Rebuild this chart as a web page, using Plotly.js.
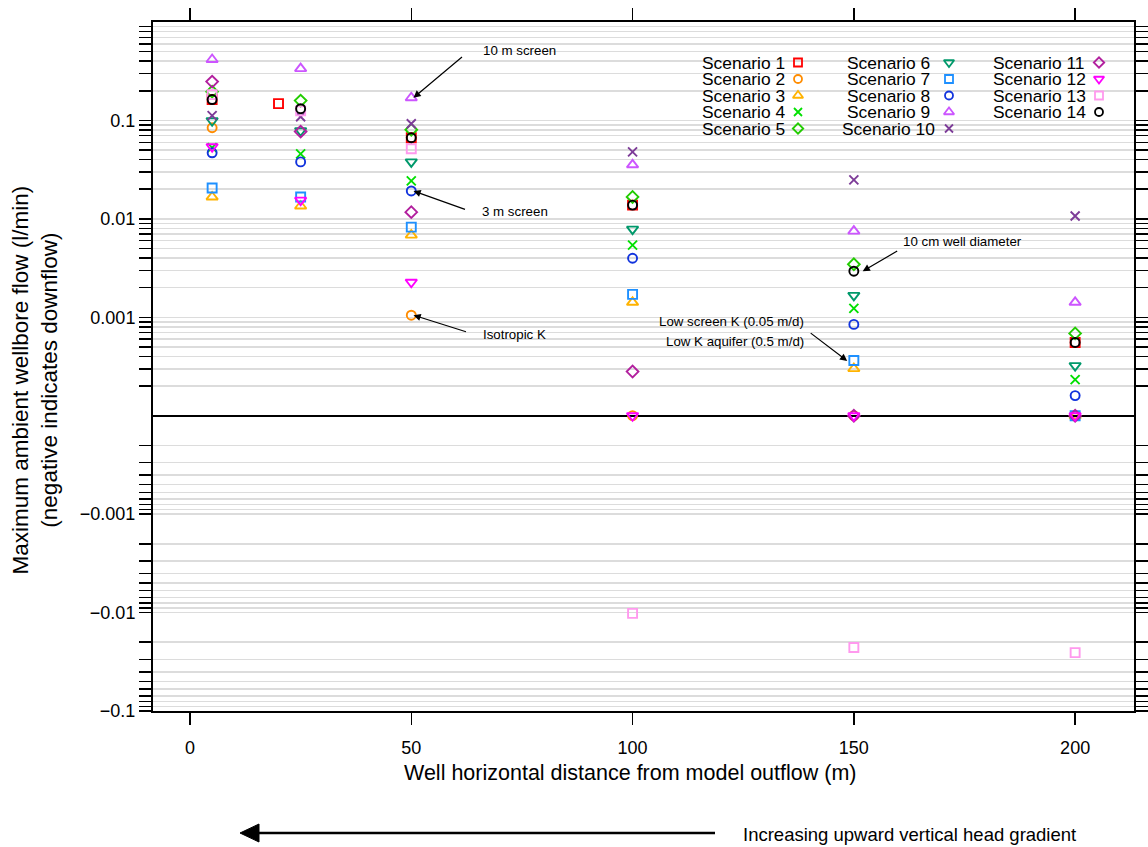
<!DOCTYPE html>
<html>
<head>
<meta charset="utf-8">
<script src="https://cdn.plot.ly/plotly-3.0.1.min.js"></script>
<style>html,body{margin:0;padding:0;background:#fff;}#chart{width:1148px;height:847px;}</style>
</head>
<body>
<div id="chart"></div>
<script>
// ---------------- DATA ----------------
const scenarioNames = ["Scenario 1","Scenario 2","Scenario 3","Scenario 4","Scenario 5","Scenario 6","Scenario 7",
  "Scenario 8","Scenario 9","Scenario 10","Scenario 11","Scenario 12","Scenario 13","Scenario 14"];
const scenarioColors = ["#FF0000","#FF8C00","#FFB300","#00E000","#22CC00","#00996B","#1E90FF",
  "#1133DD","#CC55FF","#7D3C98","#B21F9E","#FF00FF","#FF99EE","#000000"];
const scenarioSymbols = ["square-open","circle-open","triangle-up-open","x-thin-open","diamond-open","triangle-down-open","square-open",
  "circle-open","triangle-up-open","x-thin-open","diamond-open","triangle-down-open","square-open","circle-open"];

// well distance from model outflow (m)
const distances = [5, 25, 50, 100, 150, 200];
const s1Distances = [5, 20, 50, 100, 200];
const s2Distances = [5, 50, 100, 150, 200];

// maximum ambient wellbore flow (l/min); negative = downflow
const s1Flow  = [0.163, 0.148, 0.0667, 0.0138, 0.000555];
const s2Flow  = [0.0843, 0.00105, 0, 0, 0];
const s3Flow  = [0.0167, 0.0135, 0.00684, 0.00142, 0.000301, 0];
const s4Flow  = [0.053, 0.0458, 0.0243, 0.0054, 0.00123, 0.000233];
const s5Flow  = [0.196, 0.159, 0.0804, 0.0167, 0.00346, 0.000686];
const s6Flow  = [0.0993, 0.0785, 0.0379, 0.00787, 0.00167, 0.000323];
const s7Flow  = [0.0206, 0.0167, 0.00825, 0.00171, 0.000364, 0];
const s8Flow  = [0.0469, 0.0379, 0.0192, 0.00398, 0.000847, 0.00016];
const s9Flow  = [0.416, 0.336, 0.170, 0.0354, 0.00751, 0.00142];
const s10Flow = [0.112, 0.109, 0.0925, 0.048, 0.0249, 0.0107];
const s11Flow = [0.248, 0.077, 0.0117, 0.000281, 0, 0];
const s12Flow = [0.054, 0.0155, 0.00227, 0, 0, 0];
const s13Flow = [0.183, 0.125, 0.0515, -0.0102, -0.0226, -0.0255];
const s14Flow = [0.163, 0.1316, 0.0667, 0.0138, 0.00294, 0.000555];

const scenarioX = [s1Distances, s2Distances, distances, distances, distances, distances, distances,
  distances, distances, distances, distances, distances, distances, distances];
const scenarioY = [s1Flow, s2Flow, s3Flow, s4Flow, s5Flow, s6Flow, s7Flow,
  s8Flow, s9Flow, s10Flow, s11Flow, s12Flow, s13Flow, s14Flow];

const yTickValues = [-0.1, -0.01, -0.001, 0.001, 0.01, 0.1];
const yTickLabels = ["\u22120.1", "\u22120.01", "\u22120.001", "0.001", "0.01", "0.1"];
const xTickValues = [0, 50, 100, 150, 200];

// ---------------- SCALE (symmetric log; values at 0 sit on the zero line) ----------------
const FLOOR = 1e-4;
function tr(v){
  if (v === 0) return 0;
  const s = Math.sign(v);
  return s * (Math.log10(Math.abs(v)) - Math.log10(FLOOR));
}

// minor ticks at 1..9 x decade, both signs
const minorVals = [];
for (let d = -4; d <= -1; d++) {
  for (let m = 1; m <= 9; m++) {
    if (d === -4 && m === 1) continue;
    const v = m * Math.pow(10, d);
    minorVals.push(tr(v));
    minorVals.push(tr(-v));
  }
}

function symSize(sym){ return sym.indexOf("triangle") === 0 ? 10 : 9; }

// ---------------- TRACES ----------------
const traces = scenarioNames.map((name, i) => ({
  type: "scatter", mode: "markers", name: name,
  x: scenarioX[i], y: scenarioY[i].map(tr),
  cliponaxis: false,
  marker: {symbol: scenarioSymbols[i], color: scenarioColors[i], size: symSize(scenarioSymbols[i]),
           line: {color: scenarioColors[i], width: 1.9}}
}));

// manual legend (text then symbol), in pixel-like overlay axes
const PL = 153, PR = 1134, PT = 22, PB = 711;
const legendCols = [
  {textX: 743, markX: 798, items: [0,1,2,3,4]},
  {textX: 888, markX: 949, items: [5,6,7,8,9]},
  {textX: 1039, markX: 1099, items: [10,11,12,13]}
];
const rowY0 = 62.5, rowDy = 16.5;
const legendAnn = [];
legendCols.forEach(col => {
  col.items.forEach((idx, r) => {
    const yy = rowY0 + r * rowDy;
    traces.push({
      type: "scatter", mode: "markers", xaxis: "x2", yaxis: "y2", showlegend: false, hoverinfo: "skip",
      x: [col.markX], y: [yy],
      marker: {symbol: scenarioSymbols[idx], color: scenarioColors[idx], size: symSize(scenarioSymbols[idx]) - 1,
               line: {color: scenarioColors[idx], width: 1.8}}
    });
    legendAnn.push({xref: "x2", yref: "y2", x: col.textX, y: yy, text: scenarioNames[idx],
      showarrow: false, xanchor: "center", yanchor: "middle",
      font: {family: "Liberation Sans, Arial, sans-serif", size: 17.4, color: "#000"}});
  });
});

const px2paperX = p => (p - PL) / (PR - PL);
const px2paperY = p => (PB - p) / (PB - PT);

const FONT = "Liberation Sans, Arial, Helvetica, sans-serif";
const noteFont = {family: FONT, size: 13.3, color: "#000"};
function arrowAnn(x, y, ax, ay) {
  return {xref: "x", yref: "y", x: x, y: y, ax: ax, ay: ay, text: "", showarrow: true,
    arrowhead: 2, arrowsize: 1.2, arrowwidth: 1.2, arrowcolor: "#000", standoff: 0, startstandoff: 0};
}
function textAnn(px, py, text, anchor) {
  return {xref: "paper", yref: "paper", x: px2paperX(px), y: px2paperY(py), text: text,
    showarrow: false, xanchor: anchor || "center", yanchor: "middle", font: noteFont};
}

const annotations = [
  textAnn(519, 50, "10 m screen"),
  arrowAnn(50.0 + 0.5, tr(0.170), 50, -42),
  textAnn(515, 211, "3 m screen"),
  arrowAnn(50.0 + 0.5, tr(0.0192), 53, 19),
  textAnn(514, 334, "Isotropic K"),
  arrowAnn(50.0 + 0.5, tr(0.00105), 54, 17),
  textAnn(962, 241, "10 cm well diameter"),
  arrowAnn(152, tr(0.00294), 36, -21),
  textAnn(806, 321, "Low screen K (0.05 m/d)", "right"),
  textAnn(806, 342, "Low K aquifer (0.5 m/d)", "right"),
  arrowAnn(148.5, tr(0.00036), -38, -29),
  {xref: "paper", yref: "paper", x: px2paperX(630), y: px2paperY(773), text: "Well horizontal distance from model outflow (m)",
   showarrow: false, xanchor: "center", yanchor: "middle", font: {family: FONT, size: 21.5, color: "#000"}},
  {xref: "paper", yref: "paper", x: px2paperX(34.5), y: px2paperY(380), textangle: -90,
   text: "Maximum ambient wellbore flow (l/min)<br>(negative indicates downflow)",
   showarrow: false, xanchor: "center", yanchor: "middle", font: {family: FONT, size: 22.5, color: "#000"}},
  {xref: "paper", yref: "paper", x: px2paperX(741), y: px2paperY(834), text: "Increasing upward vertical head gradient",
   showarrow: false, xanchor: "left", yanchor: "middle", font: {family: FONT, size: 18.5, color: "#000"}}
].concat(legendAnn);

const shapes = [
  {type: "rect", xref: "paper", yref: "paper", layer: "between",
   x0: px2paperX(695), x1: px2paperX(1107), y0: px2paperY(139), y1: px2paperY(50),
   fillcolor: "#ffffff", line: {width: 0}},
  {type: "line", xref: "paper", yref: "paper", x0: px2paperX(256), x1: px2paperX(715),
   y0: px2paperY(833), y1: px2paperY(833), line: {color: "#000", width: 2.5}},
  {type: "path", xref: "paper", yref: "paper",
   path: "M " + px2paperX(240) + " " + px2paperY(833) + " L " + px2paperX(259) + " " + px2paperY(824) +
         " L " + px2paperX(259) + " " + px2paperY(842) + " Z",
   fillcolor: "#000", line: {color: "#000", width: 1}}
];

const axisCommon = {
  ticks: "outside", ticklen: 12, tickwidth: 1.5, tickcolor: "#000",
  showline: true, linewidth: 2, linecolor: "#000", mirror: "ticks",
  tickfont: {family: FONT, size: 18, color: "#000"}
};

const layout = {
  width: 1148, height: 847,
  margin: {l: PL, r: 1148 - PR, t: PT, b: 847 - PB},
  paper_bgcolor: "#fff", plot_bgcolor: "#fff",
  showlegend: false,
  xaxis: Object.assign({}, axisCommon, {
    range: [-8.36, 213.3], tickmode: "array", tickvals: xTickValues,
    showgrid: false, zeroline: false, ticklabelstandoff: 7
  }),
  yaxis: Object.assign({}, axisCommon, {
    range: [-3.0, 4.0], tickmode: "array", tickvals: yTickValues.map(tr), ticktext: yTickLabels,
    showgrid: true, gridcolor: "#dcdcdc", gridwidth: 1.5,
    zeroline: true, zerolinecolor: "#000", zerolinewidth: 1.6,
    ticklabelstandoff: 0,
    minor: {tickmode: "array", tickvals: minorVals, ticks: "outside", ticklen: 12, tickwidth: 1.5,
            tickcolor: "#000", showgrid: true, gridcolor: "#dcdcdc", gridwidth: 1.5}
  }),
  xaxis2: {overlaying: "x", anchor: "y2", range: [PL, PR], visible: false, fixedrange: true},
  yaxis2: {overlaying: "y", anchor: "x2", range: [PB, PT], visible: false, fixedrange: true},
  annotations: annotations,
  shapes: shapes
};

Plotly.newPlot("chart", traces, layout, {displayModeBar: false, staticPlot: true});
</script>
</body>
</html>
